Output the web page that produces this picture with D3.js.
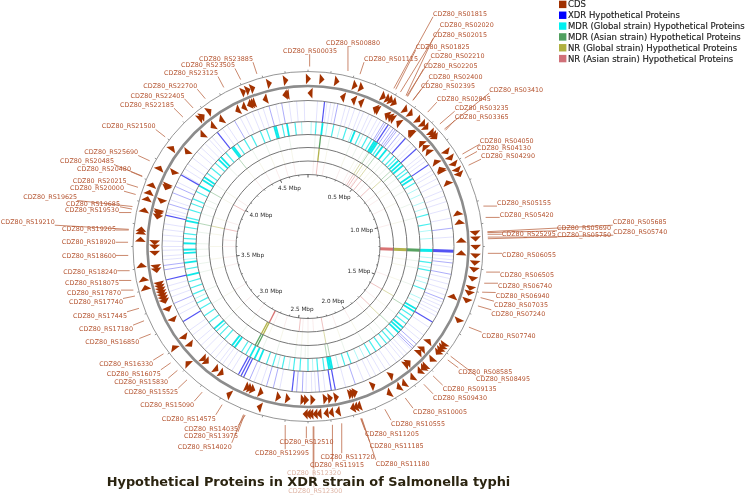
<!DOCTYPE html>
<html><head><meta charset="utf-8">
<script src="https://cdn.jsdelivr.net/npm/d3@7"></script>
<style>
html,body{margin:0;padding:0;background:#fff}
svg{display:block;filter:blur(0.4px)}
text{font-family:"DejaVu Sans",sans-serif}
</style></head><body><div id="chart"></div>
<script>
const genomeMb = 4.8;
const titleText = "Hypothetical Proteins in XDR strain of Salmonella typhi";
const legendNames = ["CDS","XDR Hypothetical Proteins","MDR (Global strain) Hypothetical Proteins","MDR (Asian strain) Hypothetical Proteins","NR (Global strain) Hypothetical Proteins","NR (Asian strain) Hypothetical Proteins"];
const legendColors = ["#a03000","#0000ff","#00f0f0","#4f9f5f","#b0b040","#d07078"];
const majorTicks = [0.5,1.0,1.5,2.0,2.5,3.0,3.5,4.0,4.5];

const cdsForward = [.002,.064,.133,.218,.248,.357,.38,.396,.415,.474,.504,.549,.578,.599,.633,.648,.659,.744,.777,.809,.84,.862,1.14,1.166,1.204,1.243,1.276,1.307,1.349,1.393,1.416,1.452,1.551,1.68,1.695,1.71,1.725,1.767,1.812,1.823,1.844,1.888,1.935,1.964,2.016,2.165,2.18,2.195,2.264,2.295,2.318,2.35,2.368,2.387,2.399,2.413,2.626,2.777,3.013,3.108,3.411,3.451,3.515,3.633,3.667,3.68,3.768,3.821,3.852,3.888,3.972,4.079,4.268,4.281,4.32,4.499,4.521,4.544,4.623,4.699];
const cdsReverse = [.01,.173,.229,.267,.345,.355,.411,.429,.443,.481,.556,.564,.634,.66,.688,.752,.795,.803,.871,1.031,1.076,1.168,1.231,1.452,1.707,1.755,1.779,1.853,1.868,1.961,2.065,2.16,2.172,2.185,2.257,2.288,2.312,2.375,2.407,2.424,2.5,2.547,2.637,2.68,2.695,2.71,2.857,2.889,2.95,2.97,3.068,3.115,3.219,3.277,3.32,3.335,3.35,3.365,3.38,3.395,3.41,3.48,3.497,3.566,3.597,3.619,3.748,3.763,3.773,3.828,3.899,3.909,3.983,4.105,4.22,4.287,4.34,4.435,4.469,4.5,4.51,4.52,4.583,4.684,4.693];

const xdrStrong = [.087,.445,.56,.64,.745,1.225,1.617,2.256,2.277,2.484,2.75,2.765,2.78,3.187,3.423,3.765,3.992,4.287];
const xdrMid = [.158,.42,.43,.46,.478,.49,.5,.52,1.103,1.287,1.347,1.484,1.76,1.779,1.79,2.147,2.34,2.43,2.46,2.584,2.621,2.716,3.293,3.477,3.5,3.827,3.889,3.925,4.396,4.593,4.661];
const xdrFaint = [.05,.1,.12,.14,.2,.223,.25,.28,.3,.33,.35,.38,.4,.54,.6,.62,.68,.7,.72,.78,.8,.83,.86,.9,.93,.96,1.0,1.05,1.15,1.25,1.27,1.31,1.37,1.4,1.43,1.46,1.5,1.52,1.54,1.56,1.58,1.65,1.7,1.73,1.8,1.83,1.85,1.87,1.9,1.94,1.97,2.0,2.03,2.06,2.1,2.2,2.31,2.36,2.38,2.41,2.55,2.65,2.69,2.82,2.85,2.88,2.9,2.93,2.96,3.0,3.03,3.06,3.1,3.13,3.23,3.26,3.33,3.36,3.39,3.53,3.55,3.58,3.6,3.63,3.66,3.69,3.72,3.78,3.8,3.85,3.95,4.0,4.03,4.06,4.1,4.14,4.17,4.2,4.23,4.25,4.32,4.35,4.43,4.46,4.5,4.53,4.56,4.63,4.7,4.74,4.78];

const mdrGlobalStrong = [.09,.295,.43,.44,.45,.49,.52,.62,.64,.66,.74,.76,1.225,1.6,1.62,1.74,1.76,1.78,2.25,2.26,2.27,2.71,2.74,2.77,2.88,2.9,3.05,3.42,3.5,3.56,3.58,3.62,3.76,3.99,4.03,4.05,4.19,4.21,4.3,4.31,4.59,4.6,4.67];
const mdrGlobalMid = [.05,.16,.24,.33,.38,.41,.47,.55,.58,.6,.69,.71,.79,1.0,1.06,1.3,1.35,1.47,1.65,1.68,1.71,1.82,1.85,1.88,1.92,1.96,2.0,2.13,2.17,2.3,2.34,2.4,2.45,2.49,2.56,2.62,2.66,2.8,2.83,2.96,3.0,3.03,3.1,3.15,3.2,3.24,3.3,3.34,3.38,3.46,3.65,3.68,3.72,3.78,3.83,3.87,3.9,3.95,4.08,4.12,4.16,4.25,4.34,4.39,4.44,4.5,4.54,4.64,4.72];
const mdrGlobalFaint = [.02,.12,.2,.28,.35,.83,.87,.92,.96,1.1,1.15,1.27,1.33,1.4,1.43,1.53,1.56,2.04,2.08,2.21,2.37,2.52,2.59,3.27,3.52,4.76];

const mdrAsianStrong = [.087,1.225,2.76,2.775];
const mdrAsianMid = [.44,.49,.635,.66,1.62,1.78,2.25,2.27,3.76,3.99,4.29];
const mdrAsianFaint = [.05,.15,.3,.35,.4,.43,.47,.53,.56,.6,.7,.75,.8,.9,1.0,1.3,1.35,1.47,1.7,1.85,1.9,2.0,2.14,2.4,2.42,2.45,2.49,2.62,2.72,2.9,3.05,3.19,3.29,3.42,3.48,3.53,3.58,3.62,3.7,3.83,3.89,3.93,4.05,4.2,4.4,4.5,4.59,4.67];

const nrGlobalStrong = [.087,1.225,2.76,2.775];
const nrGlobalMid = [.43,.45,.49,.64,1.6,1.784,2.26,3.76];
const nrGlobalFaint = [.05,.15,.3,.38,.41,.47,.53,.56,.6,.7,.75,.85,1.0,1.3,1.35,1.47,1.7,1.85,2.0,2.14,2.4,2.45,2.49,2.62,2.72,2.9,3.05,3.19,3.42,3.5,3.6,3.7,3.83,3.99,4.05,4.29,4.4,4.5,4.59,4.67];

const nrAsianStrong = [1.225,2.76];
const nrAsianMid = [.087,.43,.45,.48,.52,.62,1.6,1.78,2.26,3.76,3.99,2.48];
const nrAsianFaint = [.05,.15,.3,.38,.41,.47,.56,.7,.75,.85,1.0,1.3,1.47,1.7,1.85,2.0,2.14,2.35,2.4,2.45,2.62,2.72,2.9,3.05,3.19,3.42,3.5,3.6,3.66,3.83,4.05,4.29,4.4,4.5,4.59,4.67];

const geneNames = ["CDZ80_RS00035","CDZ80_RS00880","CDZ80_RS01115","CDZ80_RS01815","CDZ80_RS02020","CDZ80_RS02015","CDZ80_RS01825","CDZ80_RS02210","CDZ80_RS02205","CDZ80_RS02400","CDZ80_RS02395","CDZ80_RS02845","CDZ80_RS03410","CDZ80_RS03235","CDZ80_RS03365","CDZ80_RS04050","CDZ80_RS04130","CDZ80_RS04290","CDZ80_RS05155","CDZ80_RS05420","CDZ80_RS05685","CDZ80_RS05690","CDZ80_RS25295","CDZ80_RS05750","CDZ80_RS05740","CDZ80_RS06055","CDZ80_RS06505","CDZ80_RS06740","CDZ80_RS06940","CDZ80_RS07035","CDZ80_RS07240","CDZ80_RS07740","CDZ80_RS08585","CDZ80_RS08495","CDZ80_RS09135","CDZ80_RS09430","CDZ80_RS10005","CDZ80_RS10555","CDZ80_RS11205","CDZ80_RS11185","CDZ80_RS11180","CDZ80_RS11720","CDZ80_RS11915","CDZ80_RS12320","CDZ80_RS12300","CDZ80_RS12510","CDZ80_RS12995","CDZ80_RS14020","CDZ80_RS13975","CDZ80_RS14035","CDZ80_RS14575","CDZ80_RS15090","CDZ80_RS15525","CDZ80_RS15830","CDZ80_RS16075","CDZ80_RS16330","CDZ80_RS16850","CDZ80_RS17180","CDZ80_RS17445","CDZ80_RS17740","CDZ80_RS17870","CDZ80_RS18075","CDZ80_RS18240","CDZ80_RS18600","CDZ80_RS18920","CDZ80_RS19205","CDZ80_RS19210","CDZ80_RS19530","CDZ80_RS19685","CDZ80_RS19625","CDZ80_RS20000","CDZ80_RS20215","CDZ80_RS20480","CDZ80_RS20485","CDZ80_RS25690","CDZ80_RS21500","CDZ80_RS22185","CDZ80_RS22405","CDZ80_RS22700","CDZ80_RS23125","CDZ80_RS23505","CDZ80_RS23885"];
const geneMb = [.007,.171,.224,.38,.412,.44,.389,.444,.448,.476,.475,.556,.657,.628,.664,.788,.808,.842,1.027,1.076,1.137,1.141,1.148,1.16,1.167,1.229,1.309,1.357,1.396,1.42,1.457,1.555,1.721,1.701,1.813,1.866,1.964,2.063,2.173,2.171,2.168,2.256,2.296,2.378,2.375,2.407,2.497,2.68,2.676,2.672,2.78,2.88,2.963,3.02,3.063,3.112,3.212,3.275,3.332,3.387,3.413,3.455,3.497,3.562,3.618,3.67,3.673,3.745,3.76,3.771,3.824,3.856,3.905,3.907,3.979,4.1,4.213,4.271,4.336,4.428,4.507,4.58];

// label placement on the page (layout only, one entry per gene name)
const labelLayout = [[310,50.7],[353,42.7],[391,58.7],[460,13.3],[466.8,24.7],[460,35],[442.7,46.7],[457.5,55.3],[450.5,65.3],[455.5,76.3],[448,86],[463.8,98.7],[516.2,89.7],[481.7,107.7],[481.7,116.7],[506.7,140.7],[504,148],[508,155.7],[524,202.7],[526.7,215],[639.7,221.7],[584,227.3],[528.8,234],[584.2,235],[640.3,231.7],[529,254.3],[527,274.3],[525,285.7],[522.7,296],[521,304.7],[518.3,313.3],[508.7,335.7],[485.3,371.3],[503,379],[469.7,388.7],[460,397.3],[440,411.7],[418,423.7],[392,433.7],[396.7,445.3],[402.7,463.3],[347.5,456.7],[337,465],[314,472.3],[315.3,491],[306.5,441.7],[282,452.7],[204.8,446.3],[211,435.3],[211.2,429],[188.8,418.3],[167.2,404.7],[151.2,391.7],[141.2,381.7],[133.8,373.3],[126.2,363.7],[112.3,342],[106,328.7],[100,315.3],[96,302],[94,292.3],[92,282.3],[90.3,272],[89,256],[88.7,241.7],[89,228.3],[27.8,221.7],[92,210],[93,203.3],[50.2,197],[97,187.7],[99.7,180.3],[104,168.3],[87,161],[111.2,152],[128.7,126],[147,104.7],[157.5,95.3],[170.3,85.7],[191,73],[208,65],[226,58.7]];

const cx = 308, cy = 246.5;
const rOuter = 175, rMid = 160.5, rInnerCds = 146, rXdr = 125, rMdrG = 112, rMdrA = 99, rNrG = 85.5, rNrA = 72;
const angle = d3.scaleLinear().domain([0, genomeMb]).range([0, 2 * Math.PI]);
const polar = (mb, r) => { const p = d3.pointRadial(angle(mb), r); return [cx + p[0], cy + p[1]]; };

const svg = d3.select("#chart").append("svg").attr("width", 746).attr("height", 496);

// ring lines
const rings = [
 {o:rInnerCds,i:rXdr,c:"#1010f0",s:xdrStrong,m:xdrMid,f:xdrFaint,so:.72,mo:.34,fo:.15,sw:1.2,mw:1,fw:.8},
 {o:rXdr,i:rMdrG,c:"#00e8e8",s:mdrGlobalStrong,m:mdrGlobalMid,f:mdrGlobalFaint,so:.95,mo:.72,fo:.35,sw:1.8,mw:1.2,fw:.9},
 {o:rMdrG,i:rMdrA,c:"#2e8b3a",s:mdrAsianStrong,m:mdrAsianMid,f:mdrAsianFaint,so:.8,mo:.35,fo:.12,sw:1.3,mw:1,fw:.8},
 {o:rMdrA,i:rNrG,c:"#a0a020",s:nrGlobalStrong,m:nrGlobalMid,f:nrGlobalFaint,so:.8,mo:.38,fo:.12,sw:1.3,mw:1,fw:.8},
 {o:rNrG,i:rNrA,c:"#d05050",s:nrAsianStrong,m:nrAsianMid,f:nrAsianFaint,so:.8,mo:.35,fo:.13,sw:1.3,mw:1,fw:.8}
];
const hit = (g, list, ring, w, op) => g.selectAll(null).data(list).join("line")
  .attr("x1", d => polar(d, ring.i)[0]).attr("y1", d => polar(d, ring.i)[1])
  .attr("x2", d => polar(d, ring.o)[0]).attr("y2", d => polar(d, ring.o)[1])
  .attr("stroke", ring.c).attr("stroke-width", d => (d === 1.225 ? 3 : w)).attr("stroke-opacity", op);
rings.forEach(ring => {
  const g = svg.append("g");
  hit(g, ring.f, ring, ring.fw, ring.fo);
  hit(g, ring.m, ring, ring.mw, ring.mo);
  hit(g, ring.s, ring, ring.sw, ring.so);
});

// circles
[[rOuter,.9,"#8a8a8a"],[rMid,2.6,"#8c8c8c"],[rInnerCds,1,"#808080"],[rXdr,1,"#767676"],[rMdrG,1,"#767676"],[rMdrA,1,"#767676"],[rNrG,1,"#767676"],[rNrA,1,"#767676"]]
 .forEach(([r,w,c]) => svg.append("circle").attr("cx",cx).attr("cy",cy).attr("r",r).attr("fill","none").attr("stroke",c).attr("stroke-width",w));

// ticks
const tickMb = d3.range(0, Math.round(genomeMb * 10)).map(i => i / 10);
svg.append("g").selectAll("line").data(tickMb).join("line")
  .attr("x1", d => polar(d, rOuter)[0]).attr("y1", d => polar(d, rOuter)[1])
  .attr("x2", d => polar(d, rOuter + 1.8)[0]).attr("y2", d => polar(d, rOuter + 1.8)[1])
  .attr("stroke", "#777").attr("stroke-width", .8);
svg.append("g").selectAll("line").data(tickMb).join("line")
  .attr("x1", d => polar(d, rNrA)[0]).attr("y1", d => polar(d, rNrA)[1])
  .attr("x2", d => polar(d, rNrA - (Math.round(d * 10) % 5 === 0 ? 3 : 1.5))[0])
  .attr("y2", d => polar(d, rNrA - (Math.round(d * 10) % 5 === 0 ? 3 : 1.5))[1])
  .attr("stroke", "#555").attr("stroke-width", d => Math.round(d * 10) % 5 === 0 ? 1 : .7);
svg.append("g").selectAll("text").data(majorTicks).join("text")
  .attr("x", d => { const s = Math.sin(angle(d)); return cx + (44 + 12 * Math.abs(s)) * s; })
  .attr("y", d => cy - 63 * Math.cos(angle(d)) + 2)
  .attr("text-anchor","middle").attr("font-size",5.7).attr("fill","#2a2a2a")
  .text(d => d.toFixed(1) + " Mbp");

// CDS arrows
const arrow = (mb, rc, dir) => {
  const halfLen = .011 * (rOuter / rc), half = 5.4;
  const a = polar(mb - dir * halfLen, rc - half), b = polar(mb - dir * halfLen, rc + half), t = polar(mb + dir * halfLen, rc);
  return d3.line()([a, b, t]) + "Z";
};
svg.append("g").selectAll("path").data(cdsForward).join("path")
  .attr("d", d => arrow(d, 167.7, 1)).attr("fill", "#a33200");
svg.append("g").selectAll("path").data(cdsReverse).join("path")
  .attr("d", d => arrow(d, 153.4, -1)).attr("fill", "#a33200");

// labels and leaders
const labW = 54, labH = 7;
const labels = geneNames.map((n, i) => ({name:n, mb:geneMb[i], x:labelLayout[i][0], y:labelLayout[i][1]}));
svg.append("g").selectAll("line").data(labels).join("line")
  .attr("x1", d => polar(d.mb, 180)[0]).attr("y1", d => polar(d.mb, 180)[1])
  .attr("x2", d => Math.max(d.x - labW/2, Math.min(d.x + labW/2, polar(d.mb, 180)[0])))
  .attr("y2", d => Math.max(d.y - labH/2, Math.min(d.y + labH/2, polar(d.mb, 180)[1])))
  .attr("stroke", "#bc6a48").attr("stroke-width", .8);
svg.append("g").selectAll("text").data(labels).join("text")
  .attr("x", d => d.x).attr("y", d => d.y + 2.3).attr("text-anchor","middle")
  .attr("font-size", 6.4).attr("fill", "#b4532f").text(d => d.name);

// veil under the title
svg.append("rect").attr("x",240).attr("y",468).attr("width",170).attr("height",28).attr("fill","#fff").attr("fill-opacity",.55);

svg.append("text").attr("x",308.5).attr("y",486).attr("text-anchor","middle")
  .attr("font-size",12.9).attr("font-weight","bold").attr("fill","#2b2410").text(titleText);

// legend
const legRow = d3.scaleLinear().domain([0,5]).range([4.4,58.6]);
const leg = svg.append("g").selectAll("g").data(legendNames).join("g");
leg.append("rect").attr("x",559).attr("y",(d,i)=>legRow(i)-3.7).attr("width",7.4).attr("height",7.4).attr("fill",(d,i)=>legendColors[i]);
leg.append("text").attr("x",568).attr("y",(d,i)=>legRow(i)+3).attr("font-size",8.5).attr("fill","#222").attr("stroke","#222").attr("stroke-width",.15).text(d=>d);
</script></body></html>
